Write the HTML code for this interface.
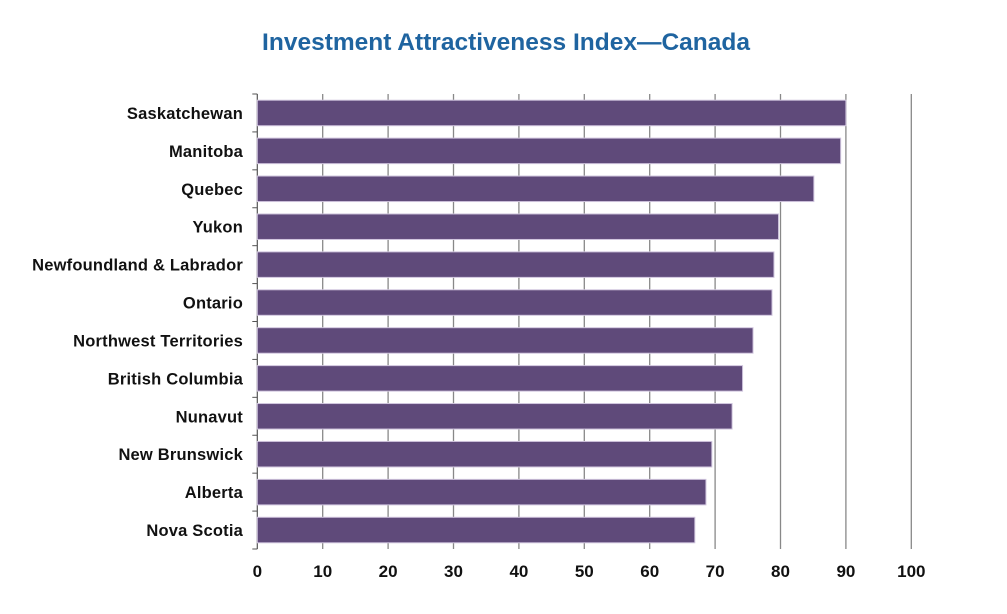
<!DOCTYPE html>
<html><head><meta charset="utf-8"><style>
html,body{margin:0;padding:0;background:#fff;}
svg{display:block;font-family:"Liberation Sans",Arial,sans-serif;}
</style></head><body>
<svg id="chart" width="1007" height="614" viewBox="0 0 1007 614">
<text x="506" y="50" text-anchor="middle" font-size="24.5" font-weight="bold" fill="#1f64a0">Investment Attractiveness Index—Canada</text>
<g id="grid"></g><g id="bars"></g><g id="ylabels"></g><g id="xticks"></g>
</svg>
<script>
const categories = ["Saskatchewan","Manitoba","Quebec","Yukon","Newfoundland & Labrador","Ontario","Northwest Territories","British Columbia","Nunavut","New Brunswick","Alberta","Nova Scotia"];
const values = [90.0,89.2,85.1,79.7,79.0,78.7,75.8,74.2,72.6,69.5,68.6,66.9];
const xTicks = [0,10,20,30,40,50,60,70,80,90,100];
const NS="http://www.w3.org/2000/svg";
const x0=257.3, xPer=6.54, plotTop=94, plotBottom=549;
const band=(plotBottom-plotTop)/categories.length, barH=25.5;
function xs(v){return x0+v*xPer;}
function ys(i){return plotTop+i*band;}
function mk(tag,attrs,parent){const e=document.createElementNS(NS,tag);for(const k in attrs)e.setAttribute(k,attrs[k]);parent.appendChild(e);return e;}
const grid=document.getElementById('grid'),bars=document.getElementById('bars'),yl=document.getElementById('ylabels'),xt=document.getElementById('xticks');
xTicks.forEach(t=>{
  const x=xs(t);
  const l=mk('line',{x1:x,x2:x,y1:plotTop,y2:plotBottom,stroke:t===0?'#555':'#888','stroke-width':t===0?1.2:1.3},grid);
  
  
  const tx=mk('text',{x:x,y:577,'text-anchor':'middle','font-size':17,'font-weight':'bold',fill:'#111'},xt);
  tx.textContent=t;
  
  
});
for(let i=0;i<=categories.length;i++){
  const tk=mk('line',{x1:x0-5,x2:x0,y1:ys(i),y2:ys(i),stroke:'#555','stroke-width':1},grid);
  
  
}
categories.forEach((c,i)=>{
  const y=ys(i)+(band-barH)/2;
  const r=mk('rect',{x:x0,y:y,width:xs(values[i])-x0,height:barH,fill:'#5f4a7a',stroke:'#cfc4dd','stroke-width':1},bars);
  
  
  const t=mk('text',{x:243,y:ys(i)+band/2+6,'text-anchor':'end','font-size':16.5,'font-weight':'bold','letter-spacing':0.2,fill:'#111'},yl);
  t.textContent=c;
  
  
});
</script>
</body></html>
